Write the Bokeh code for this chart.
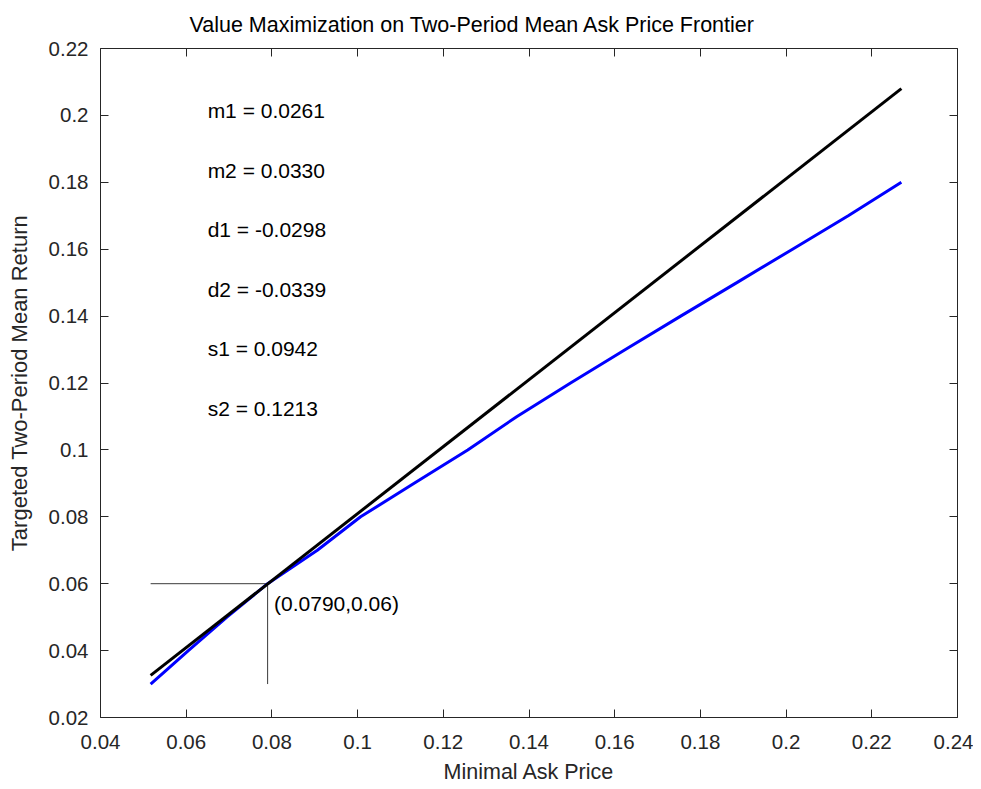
from bokeh.plotting import figure
from bokeh.models import LinearAxis, Range1d, FixedTicker
from bokeh.embed import file_html
from bokeh.resources import INLINE
from bokeh.core.properties import value

# ---- data ----
ask_price = [0.0517, 0.0605, 0.0695, 0.0790, 0.0906, 0.1007, 0.1132, 0.1257,
             0.1372, 0.1497, 0.1625, 0.1754, 0.1885, 0.2015, 0.2145, 0.2269]
mean_return = [0.030, 0.040, 0.050, 0.060, 0.070, 0.080, 0.090, 0.100,
               0.110, 0.120, 0.130, 0.140, 0.150, 0.160, 0.170, 0.180]

line_x = [0.0517, 0.2269]
line_y = [0.0326, 0.2080]

cross_h_x = [0.0517, 0.0790]
cross_h_y = [0.06, 0.06]
cross_v_x = [0.0790, 0.0790]
cross_v_y = [0.030, 0.06]
point_label = ["(0.0790,0.06)"]
point_label_x = [0.0805]
point_label_y = [0.0542]

param_labels = ["m1 = 0.0261", "m2 = 0.0330", "d1 = -0.0298",
                "d2 = -0.0339", "s1 = 0.0942", "s2 = 0.1213"]
param_x = [0.065] * 6
param_y = [0.2015, 0.1835, 0.1658, 0.1480, 0.1302, 0.1124]

x_ticks = [0.04, 0.06, 0.08, 0.10, 0.12, 0.14, 0.16, 0.18, 0.20, 0.22, 0.24]
x_tick_labels = ["0.04", "0.06", "0.08", "0.1", "0.12", "0.14", "0.16",
                 "0.18", "0.2", "0.22", "0.24"]
y_ticks = [0.02, 0.04, 0.06, 0.08, 0.10, 0.12, 0.14, 0.16, 0.18, 0.20, 0.22]
y_tick_labels = ["0.02", "0.04", "0.06", "0.08", "0.1", "0.12", "0.14",
                 "0.16", "0.18", "0.2", "0.22"]

title_text = "Value Maximization on Two-Period Mean Ask Price Frontier"

FONT = "Liberation Sans"
AX = "#262626"

p = figure(frame_width=857, frame_height=669,
           min_border_left=100, min_border_right=16, min_border_top=48, min_border_bottom=70,
           x_range=Range1d(0.04, 0.24), y_range=Range1d(0.02, 0.22),
           output_backend="svg", toolbar_location=None,
           x_axis_location=None, y_axis_location=None,
           title=title_text)
p.grid.visible = False
p.outline_line_color = None
p.background_fill_color = "white"
p.border_fill_color = "white"

p.title.align = "left"
p.title.offset = 89
p.title.vertical_align = "top"
p.title.text_font = FONT
p.title.text_font_size = "21.5px"
p.title.text_font_style = "normal"
p.title.text_color = "black"
p.title.standoff = 20


def style_axis(ax, ticks, labels, show_labels):
    ax.ticker = FixedTicker(ticks=ticks)
    ax.major_label_overrides = dict(zip(ticks, labels))
    ax.axis_line_color = AX
    ax.axis_line_width = 1
    ax.major_tick_line_color = AX
    ax.major_tick_in = 8
    ax.major_tick_out = 0
    ax.minor_tick_line_color = None
    ax.major_label_text_font = FONT
    ax.major_label_text_color = AX
    ax.axis_label_text_font = FONT
    ax.axis_label_text_font_style = "normal"
    ax.axis_label_text_color = AX
    if show_labels:
        ax.major_label_text_font_size = "20.5px"
        ax.axis_label_text_font_size = "21.5px"
    else:
        ax.major_label_text_font_size = "0px"
        ax.major_label_standoff = 0


bx = LinearAxis(axis_label="Minimal Ask Price")
style_axis(bx, x_ticks, x_tick_labels, True)
bx.major_label_standoff = 17
bx.axis_label_standoff = 8
p.add_layout(bx, "below")

ly = LinearAxis(axis_label="Targeted Two-Period Mean Return")
style_axis(ly, y_ticks, y_tick_labels, True)
ly.axis_label_text_font_size = "22px"
ly.major_label_standoff = 12
ly.axis_label_standoff = 14
p.add_layout(ly, "left")

tx = LinearAxis()
style_axis(tx, x_ticks, x_tick_labels, False)
p.add_layout(tx, "above")

ry = LinearAxis()
style_axis(ry, y_ticks, y_tick_labels, False)
p.add_layout(ry, "right")

# crosshair
p.line(cross_h_x, cross_h_y, line_color="#3a3a3a", line_width=1)
p.line(cross_v_x, cross_v_y, line_color="#3a3a3a", line_width=1)

# curves
p.line(ask_price, mean_return, line_color="#0000ff", line_width=3)
p.line(line_x, line_y, line_color="black", line_width=3)

p.text(x=point_label_x, y=point_label_y, text=point_label,
       text_font=value(FONT), text_font_size="21px", text_color="black",
       text_align="left", text_baseline="middle")

p.text(x=param_x, y=param_y, text=param_labels,
       text_font=value(FONT), text_font_size="21px", text_color="black",
       text_align="left", text_baseline="middle")

open("out.html", "w").write(file_html(p, INLINE))
